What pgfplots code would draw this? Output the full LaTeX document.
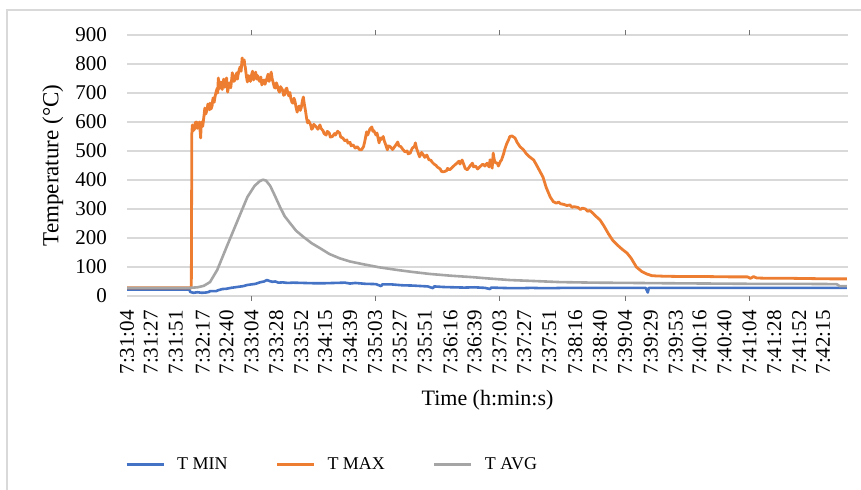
\documentclass[border=0pt]{standalone}
\usepackage{fontspec}
\setmainfont{Liberation Serif}
\usepackage{pgfplots}
\pgfplotsset{compat=1.18}

\definecolor{tmin}{HTML}{4472C4}
\definecolor{tmax}{HTML}{ED7D31}
\definecolor{tavg}{HTML}{A5A5A5}
\definecolor{gridgray}{HTML}{D9D9D9}

% time in seconds after 7:31:04, temperature in degC
\pgfplotstableread{
t T
0 22
60 22
61 14
64 11
68 13
72 11
76 12
79 14
80 17
86 17
88 20
92 24
96 25
100 28
104 30
108 32
112 34
116 38
120 40
124 42
128 47
132 50
135 55
137 52
140 49
143 50
146 46
150 47
155 45
160 46
170 45
180 44
190 44
200 45
210 46
215 43
220 45
230 42
240 41
245 34
246 40
255 40
265 37
275 36
285 34
290 33
295 27
296 33
305 31
315 30
325 29
335 30
345 28
350 24
351 29
360 28
370 27
380 27
390 28
400 27
410 27
420 28
460 28
500 28
502 12
503 28
560 28
620 28
694 28
}\tminTable

\pgfplotstableread{
t T
0 28
62 28
62.5 560
63 590
63.7 570
65 575
65.8 598
67 600
67.8 578
69 585
69.8 600
71 545
71.5 590
72 600
73 585
74 615
74.5 630
75 648
76 628
77 640
78 662
79 660
79.6 642
80 665
81 645
82 655
82.5 672
83 683
84 668
85 690
86 705
87 717
87.5 700
88 752
88.5 725
89 715
90 738
91 730
91.8 712
92.5 738
93.3 748
94 720
95 735
96 752
96.5 728
97 703
98 725
99 735
100 718
101 750
101.5 770
102 762
103 740
104 745
105 762
106 770
106.5 748
107 762
108 778
109 790
110 775
111 821
112 800
113 814
113.5 795
114 790
115 760
116 738
117 760
118 755
119 740
120 762
121 775
122 745
123 758
124 772
125 748
126 760
127 745
128 740
129 755
130 728
131 740
132 745
133 730
135 752
136 765
137 740
138 755
139 772
140 748
141 735
142 720
143 717
144 735
145 725
146 710
147 703
148 722
150 710
151 692
152 695
153 712
154 717
155 700
156 690
157 702
158 680
159 668
160 665
161 682
162 670
163 650
164 634
165 650
166 655
167 640
168 650
169 672
170 686
171 660
172 640
173 615
174 597
175 605
177 590
178 575
179 579
180 592
182 585
184 575
186 590
187 578
189 570
190 560
192 555
193 568
195 562
196 548
198 550
200 560
201 555
203 568
205 562
206 548
208 545
210 535
212 538
213 527
215 530
216 518
218 521
220 510
222 515
224 505
226 504
228 515
229 530
231 566
232 555
234 575
236 583
237 568
238 570
240 555
241 562
243 528
244 545
245 540
247 550
248 535
249 525
251 504
252 518
254 514
256 505
258 515
259 520
261 531
262 518
264 515
266 505
268 497
270 500
271 490
273 493
275 510
277 515
278 528
279 510
280 500
282 480
284 495
285 490
287 478
289 486
291 470
293 468
294 462
296 455
298 450
299 445
302 438
303 430
305 428
308 432
309 440
311 435
314 445
316 452
318 458
320 465
321 455
323 469
325 450
326 440
328 435
331 450
333 458
334 445
336 448
338 438
340 445
343 455
345 448
347 458
349 445
350 470
351 455
352 441
353 493
354 470
355 460
357 458
358 448
360 465
361 469
363 490
364 504
366 525
368 540
369 550
371 552
374 545
376 530
379 514
382 505
385 490
388 480
392 469
395 450
398 430
401 410
404 375
408 341
411 325
414 320
416 324
418 318
421 316
424 312
427 314
429 306
431 308
435 305
437 298
439 303
442 300
444 292
446 295
449 286
452 275
456 262
460 240
464 215
468 193
472 178
477 162
482 148
486 130
491 100
496 85
501 76
506 70
511 69
520 68
540 67
560 67
580 66
598 66
601 61
604 67
607 62
620 61
640 61
660 60
680 59
694 59
}\tmaxTable

\pgfplotstableread{
t T
0 28
60 28
68 30
74 35
80 48
87 90
96 169
106 255
116 341
123 380
128 396
131 401
134 398
138 380
142 350
147.5 307
152 275
157 252
163 225
170 204
178 182
186 165
195 145
205 130
215 119
227 110
243 99
260 90
275 83
292 76
312 70
333 65
350 60
369 55
390 52
417 48
450 46
488 45
520 44
560 43
600 42
640 42
684 41
687 34
694 34
}\tavgTable

\newcommand{\tickfont}{\fontsize{21bp}{24bp}\selectfont}

\begin{document}
\begin{tikzpicture}
\path[use as bounding box] (0,0) rectangle (861bp,490bp);
% chart area frame
\draw[gridgray, line width=1.2bp] (7bp,0bp) -- (7bp,480bp) -- (861bp,480bp);

\begin{axis}[
  at={(127bp,194bp)}, anchor=south west,
  scale only axis, width=721bp, height=261bp,
  xmin=0, xmax=695, ymin=0, ymax=900,
  ytick={0,100,...,900},
  xtick={0,23,47,73,96,120,144,168,191,215,239,263,287,312,335,359,383,407,432,456,480,505,529,552,576,600,624,648,671},
  xticklabels={7:31:04,7:31:27,7:31:51,7:32:17,7:32:40,7:33:04,7:33:28,7:33:52,7:34:15,7:34:39,7:35:03,7:35:27,7:35:51,7:36:16,7:36:39,7:37:03,7:37:27,7:37:51,7:38:16,7:38:40,7:39:04,7:39:29,7:39:53,7:40:16,7:40:40,7:41:04,7:41:28,7:41:52,7:42:15},
  extra x ticks={120,239,359,480,600},
  extra x tick labels={},
  extra x tick style={major tick length=5bp, tick align=outside, tick style={black!55, line width=0.8bp}},
  major tick length=0pt,
  axis line style={draw=none},
  ymajorgrids,
  grid style={gridgray, line width=1.2bp},
  /pgf/number format/assume math mode=true,
  yticklabel style={font=\tickfont, anchor=east, inner sep=0pt, xshift=-20bp},
  xticklabel style={font=\tickfont, yshift=-14bp, rotate=90, anchor=east, inner sep=0pt},
  xlabel={Time (h:min:s)},
  ylabel={Temperature (°C)},
  xlabel style={font=\fontsize{22bp}{26bp}\selectfont, at={(axis description cs:0.5,-0.398)}, anchor=center},
  ylabel style={font=\fontsize{23bp}{26bp}\selectfont, at={(axis description cs:-0.103,0.5)}, anchor=center, rotate=0},
  legend columns=3,
  legend style={at={(axis description cs:-0.003,-0.644)}, anchor=west, draw=none, fill=none,
    inner sep=0pt, font=\fontsize{18bp}{21bp}\selectfont,
    /tikz/every odd column/.append style={column sep=10bp},
    /tikz/every even column/.append style={column sep=46bp}},
  legend image code/.code={\draw[#1, line width=3bp] (0bp,0bp) -- (37bp,0bp);},
  every axis plot/.append style={line width=2.6bp, line join=round},
]
\addplot[tmin] table[x=t, y=T] {\tminTable};
\addlegendentry{T MIN}
\addplot[tmax, line width=2.8bp] table[x=t, y=T] {\tmaxTable};
\addlegendentry{T MAX}
\addplot[tavg] table[x=t, y=T] {\tavgTable};
\addlegendentry{T AVG}
\end{axis}
\end{tikzpicture}
\end{document}
